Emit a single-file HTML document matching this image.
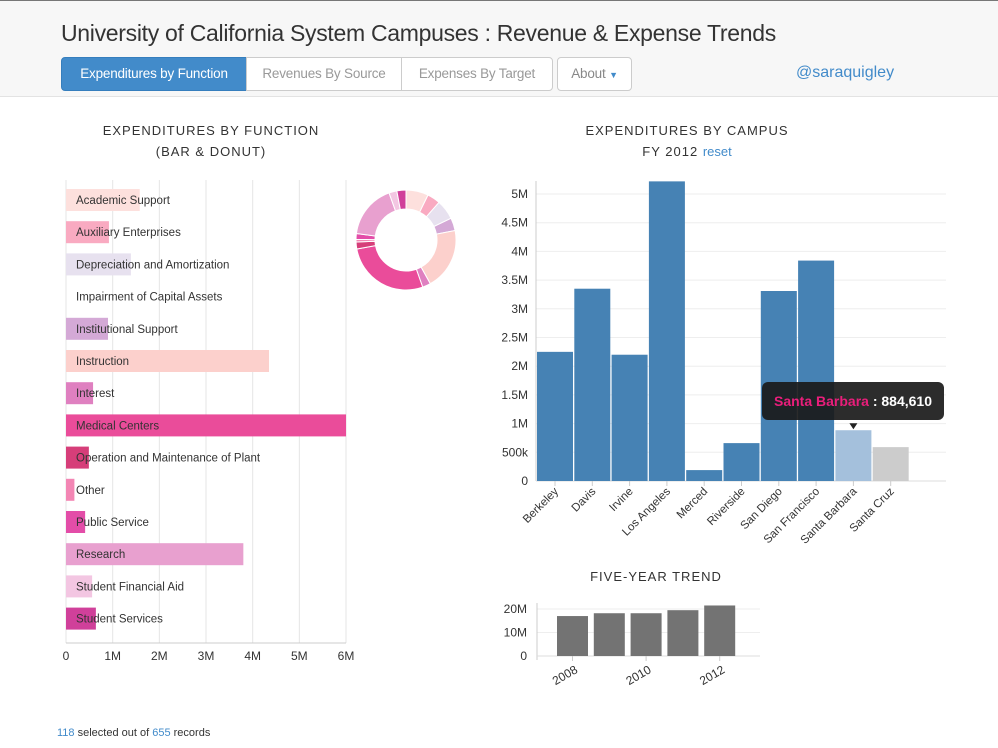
<!DOCTYPE html>
<html><head><meta charset="utf-8"><style>
body{margin:0;width:998px;height:748px;background:#fff;font-family:"Liberation Sans",sans-serif;position:relative;overflow:hidden}
.hdr{position:absolute;left:0;top:0;width:998px;height:97px;background:#f7f7f7;border-top:1px solid #777;border-bottom:1px solid #e3e3e3;box-sizing:border-box}
.title{position:absolute;left:61px;top:20px;font-size:23px;color:#333;letter-spacing:-0.3px}
.btn{position:absolute;top:57px;height:34px;box-sizing:border-box;border:1px solid #ccc;background:#fff;color:#999;font-size:13.5px;line-height:32px;text-align:center;letter-spacing:-0.2px}
.ct{position:absolute;font-size:13px;letter-spacing:1px;color:#333;text-align:center;line-height:21px}
svg{position:absolute;left:0;top:0}
</style></head><body>
<div class="hdr"></div>
<div class="title">University of California System Campuses : Revenue &amp; Expense Trends</div>
<div class="btn" style="left:61px;width:186px;background:#428bca;border-color:#357ebd;color:#fff;border-radius:4px 0 0 4px">Expenditures by Function</div>
<div class="btn" style="left:246px;width:156px">Revenues By Source</div>
<div class="btn" style="left:401px;width:152px;border-radius:0 4px 4px 0">Expenses By Target</div>
<div class="btn" style="left:557px;width:75px;border-radius:4px;color:#888">About <span style="color:#428bca;font-size:9px">▼</span></div>
<div style="position:absolute;left:796px;top:64px;font-size:16px;color:#428bca">@saraquigley</div>
<div class="ct" style="left:46px;width:330px;top:120px">EXPENDITURES BY FUNCTION<br>(BAR &amp; DONUT)</div>
<div class="ct" style="left:522px;width:330px;top:120px">EXPENDITURES BY CAMPUS<br>FY 2012 <span style="color:#428bca;letter-spacing:0">reset</span></div>
<div class="ct" style="left:541px;width:230px;top:566px">FIVE-YEAR TREND</div>
<div style="position:absolute;left:57px;top:727px;font-size:11px;color:#333"><span style="color:#428bca">118</span> selected out of <span style="color:#428bca">655</span> records</div>
<svg id="s" width="998" height="748"></svg>
<script>
const funcNames=["Academic Support","Auxiliary Enterprises","Depreciation and Amortization","Impairment of Capital Assets","Institutional Support","Instruction","Interest","Medical Centers","Operation and Maintenance of Plant","Other","Public Service","Research","Student Financial Aid","Student Services"];
const funcValues=[1.58,0.92,1.39,0,0.9,4.35,0.58,6.0,0.49,0.18,0.41,3.8,0.56,0.64];
const funcColors=["#fde0dd","#f9aac1","#e7e1ef","#fff","#d4a9d6","#fcd0cc","#df80c0","#ea4c9a","#d63e79","#f386b4","#e34da8","#e8a0cf","#f3c6e2","#d0409a"];
const funcTicks=["0","1M","2M","3M","4M","5M","6M"];
const campuses=["Berkeley","Davis","Irvine","Los Angeles","Merced","Riverside","San Diego","San Francisco","Santa Barbara","Santa Cruz"];
const campusValues=[2.25,3.35,2.2,5.22,0.19,0.66,3.31,3.84,0.88461,0.59];
const campusTicks=[0,0.5,1,1.5,2,2.5,3,3.5,4,4.5,5];
const campusTickLabels=["0","500k","1M","1.5M","2M","2.5M","3M","3.5M","4M","4.5M","5M"];
const years=["2008","2009","2010","2011","2012"];
const yearValues=[17,18.2,18.2,19.5,21.5];
const trendTicks=[0,10,20];
const trendTickLabels=["0","10M","20M"];
const S=document.getElementById('s');const NS="http://www.w3.org/2000/svg";
function el(t,a,txt){const e=document.createElementNS(NS,t);for(const k in a)e.setAttribute(k,a[k]);if(txt!=null)e.textContent=txt;S.appendChild(e);return e;}
const fx=v=>66+v*46.67, fy=i=>200+i*32.2;
funcTicks.forEach((t,i)=>{el('line',{x1:fx(i),x2:fx(i),y1:180,y2:643,stroke:'#e5e5e5'});
const tx=el('text',{x:fx(i),y:660,'text-anchor':'middle','font-size':12,fill:'#333'},t);
});
el('line',{x1:66,x2:346,y1:643,y2:643,stroke:'#ccc'});
funcNames.forEach((n,i)=>{const r=el('rect',{x:fx(0),y:fy(i)-11,width:fx(funcValues[i])-fx(0),height:22,fill:funcColors[i]});

const t=el('text',{x:76,y:fy(i)+4,'font-size':11.5,fill:'#333'},n);
});
const tot=funcValues.reduce((a,b)=>a+b,0);let a0=0;const cx=406,cy=240,R=50,r0=31;
funcValues.forEach((v,i)=>{if(!v)return;const a1=a0+v/tot*2*Math.PI;
const p=(a,rr)=>[cx+rr*Math.sin(a),cy-rr*Math.cos(a)];const[a,b]=p(a0,R),[c,d]=p(a1,R),[e,f]=p(a1,r0),[g,h]=p(a0,r0);const L=a1-a0>Math.PI?1:0;
const s=el('path',{d:`M${a},${b}A${R},${R} 0 ${L} 1 ${c},${d}L${e},${f}A${r0},${r0} 0 ${L} 0 ${g},${h}Z`,fill:funcColors[i],stroke:'#fff','stroke-width':1});
a0=a1;});
const cy0=481,cyk=57.4,cyv=v=>cy0-v*cyk,cbx=i=>537+i*37.3;
campusTicks.forEach((t,i)=>{el('line',{x1:536,x2:946,y1:cyv(t),y2:cyv(t),stroke:'#eee'});
const tx=el('text',{x:528,y:cyv(t)+4,'text-anchor':'end','font-size':12,fill:'#333'},campusTickLabels[i]);
});
el('line',{x1:536,x2:536,y1:181,y2:481,stroke:'#ccc'});el('line',{x1:536,x2:946,y1:481,y2:481,stroke:'#ddd'});
campuses.forEach((c,i)=>{const col=i==8?'#a4c0dc':i==9?'#ccc':'#4682b4';
const r=el('rect',{x:cbx(i),y:cyv(campusValues[i]),width:36,height:campusValues[i]*cyk,fill:col});

const m=cbx(i)+18;el('line',{x1:m,x2:m,y1:481,y2:486,stroke:'#ccc'});
const t=el('text',{x:m+4,y:492,'text-anchor':'end','font-size':11.5,fill:'#333',transform:`rotate(-45 ${m+4} 492)`},c);
});
const tt=el('rect',{x:762,y:382,width:182,height:38,rx:6,fill:'#1a1a1a',opacity:0.92});
const tx=el('text',{x:774,y:406,'font-size':14,'font-weight':'bold',fill:'#fff'});
const s1=document.createElementNS(NS,'tspan');s1.setAttribute('fill','#e91e7b');s1.textContent=campuses[8];tx.appendChild(s1);
const s2=document.createElementNS(NS,'tspan');s2.textContent=' : '+Math.round(campusValues[8]*1e6).toLocaleString('en-US');tx.appendChild(s2);
el('path',{d:`M${cbx(8)+14},${cyv(campusValues[8])-7}h8l-4,6z`,fill:'#222'});
const ty=v=>656-v*2.35,tbx=i=>557+i*36.8;
trendTicks.forEach((t,i)=>{el('line',{x1:537,x2:760,y1:ty(t),y2:ty(t),stroke:'#eee'});
const x=el('text',{x:527,y:ty(t)+4,'text-anchor':'end','font-size':12,fill:'#333'},trendTickLabels[i]);
});
el('line',{x1:537,x2:537,y1:603,y2:660,stroke:'#ccc'});el('line',{x1:537,x2:760,y1:656,y2:656,stroke:'#ddd'});
years.forEach((y,i)=>{const r=el('rect',{x:tbx(i),y:ty(yearValues[i]),width:31,height:yearValues[i]*2.35,fill:'#737373'});

if(i%2==0){const m=tbx(i)+15.5;el('line',{x1:m,x2:m,y1:656,y2:661,stroke:'#ccc'});
const t=el('text',{x:m+6,y:672,'text-anchor':'end','font-size':12,fill:'#333',transform:`rotate(-30 ${m+6} 672)`},y);
}});
</script>
</body></html>
